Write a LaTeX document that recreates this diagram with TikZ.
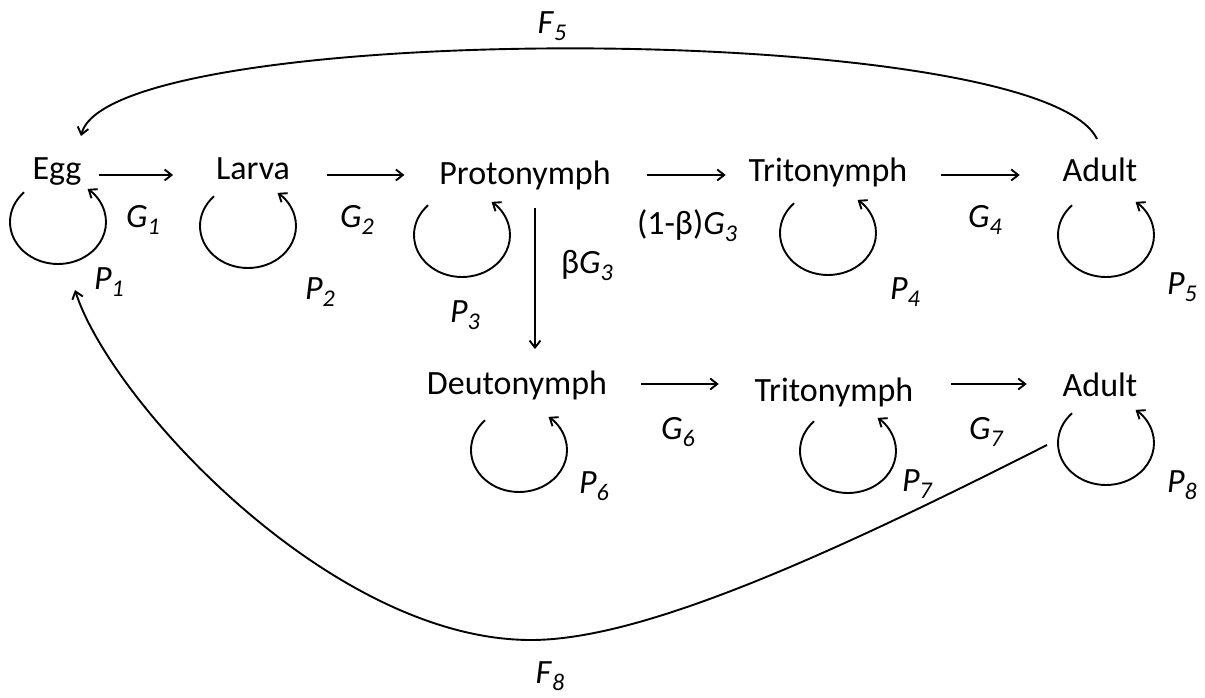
\documentclass[tikz,border=0pt]{standalone}
\usepackage{fontspec}
\setmainfont{Carlito}
\usetikzlibrary{calc, arrows.meta}

\newcommand{\sub}[1]{\raisebox{-7pt}{\fontsize{24}{24}\selectfont\itshape #1}}

\begin{document}
\begin{tikzpicture}[x=1pt, y=1pt, line width=1.9pt,
  stage/.style={anchor=base, inner sep=0pt, text height=24pt, text depth=7pt,
    font=\fontsize{34}{40}\selectfont},
  rate/.style={inner sep=0pt, font=\fontsize{34}{40}\selectfont},
  flow/.style={-{Straight Barb[length=7pt,width=11pt]}}]
  \useasboundingbox[fill=white] (0,0) rectangle (1205,697);

  % life stages
  \node[stage] (egg)    at (57,517)   {Egg};
  \node[stage] (larva)  at (253,517)  {Larva};
  \node[stage] (proto)  at (525,512)  {Protonymph};
  \node[stage] (tritoA) at (828,515)  {Tritonymph};
  \node[stage] (adultA) at (1100,515) {Adult};
  \node[stage] (deuto)  at (517,302)  {Deutonymph};
  \node[stage] (tritoB) at (834,295)  {Tritonymph};
  \node[stage] (adultB) at (1100,300) {Adult};

  % transitions
  \draw[flow] ($(egg.east)+(17,-3.5)$) -- ($(egg.east -| larva.west)+(-42,-3.5)$);
  \draw[flow] ($(larva.east)+(36,-3.5)$) -- ($(larva.east -| proto.west)+(-34,-3.5)$);
  \draw[flow] ($(proto.east)+(35,1.5)$) -- ($(proto.east -| tritoA.west)+(-22,1.5)$);
  \draw[flow] ($(tritoA.east)+(33,-1.5)$) -- ($(tritoA.east -| adultA.west)+(-42,-1.5)$);
  \draw[flow] ($(deuto.east)+(33,2.5)$) -- ($(deuto.east -| tritoB.west)+(-35,2.5)$);
  \draw[flow] ($(tritoB.east)+(37,9.5)$) -- ($(tritoB.east -| adultB.west)+(-35,9.5)$);
  \draw[flow] ($(proto.south)+(10,-15)$) -- ($(proto.south |- deuto.north)+(10,21)$);

  % staying in a stage
  \foreach \n/\dx/\dy in {egg/1/-42, larva/-5/-46, proto/-63/-50, tritoA/0/-51,
      adultA/6/-53, deuto/2/-55, tritoB/14/-49, adultB/6/-46}
    \draw[flow] ($(\n.base)+(\dx,\dy)+(135:48 and 42)$)
      arc[start angle=135, end angle=412, x radius=48, y radius=42];

  % fecundity
  \draw[flow] ($(adultA.north)+(-3,18)$) .. controls +(-57,120) and +(29,117)
    .. ($(egg.north)+(24,19)$);
  \draw[flow] ($(adultB.base)+(-53,-48)$) .. controls +(-227,-115) and +(109,0)
    .. (531,57) .. controls +(-201,0) and +(35,-110) .. ($(egg.base)+(18,-110)$);

  % rates
  \node[rate] (g1) at (143,477) {\textit{G}\sub{1}};
  \node[rate] (g2) at (357,477) {\textit{G}\sub{2}};
  \node[rate] (g3a) at (687,471) {(1-β)\textit{G}\sub{3}};
  \node[rate] (g3b) at (587,432) {β\textit{G}\sub{3}};
  \node[rate] (g4) at (985,477) {\textit{G}\sub{4}};
  \node[rate] (g6) at (678,265) {\textit{G}\sub{6}};
  \node[rate] (g7) at (986,265) {\textit{G}\sub{7}};
  \node[rate] (p1) at (109,415) {\textit{P}\sub{1}};
  \node[rate] (p2) at (320,405) {\textit{P}\sub{2}};
  \node[rate] (p3) at (465,382) {\textit{P}\sub{3}};
  \node[rate] (p4) at (905,405) {\textit{P}\sub{4}};
  \node[rate] (p5) at (1182,410) {\textit{P}\sub{5}};
  \node[rate] (p6) at (594,211) {\textit{P}\sub{6}};
  \node[rate] (p7) at (917,213) {\textit{P}\sub{7}};
  \node[rate] (p8) at (1182,212) {\textit{P}\sub{8}};
  \node[rate] (f5) at (552,671) {\textit{F}\sub{5}};
  \node[rate] (f8) at (550,21) {\textit{F}\sub{8}};
\end{tikzpicture}
\end{document}
